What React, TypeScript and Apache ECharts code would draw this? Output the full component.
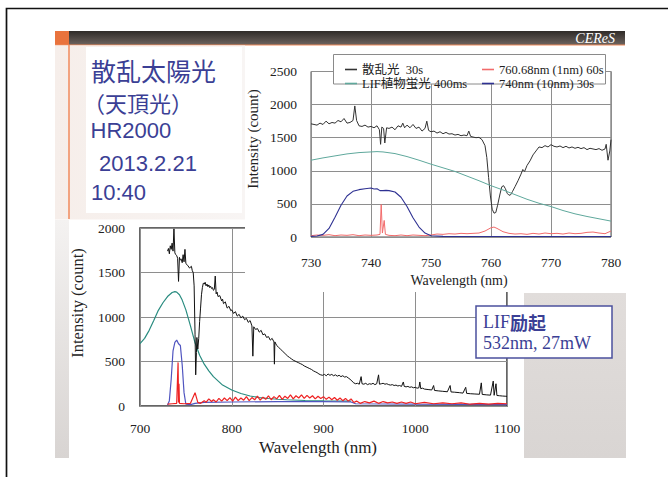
import React, { useEffect, useRef } from "react";
import * as echarts from "echarts";

// ---------- data ----------
const NAME_BLACK = "散乱光  30s";
const NAME_TEAL = "LIF植物蛍光 400ms";
const NAME_RED = "760.68nm (1nm) 60s";
const NAME_BLUE = "740nm (10nm) 30s";

const TOP_X_TICKS = [730, 780, 10];
const TOP_Y_TICKS = [0, 2500, 500];
const BOT_X_TICKS = [700, 1100, 100];
const BOT_Y_TICKS = [0, 2000, 500];

const topBlack: [number, number][] = [
  [730, 1710], [730.5, 1700], [731, 1690], [731.5, 1720], [732, 1700], [732.5, 1750], [733, 1710],
  [733.5, 1730], [734, 1720], [734.5, 1760], [735, 1740], [735.5, 1790], [736, 1720], [736.5, 1730],
  [737, 1760], [737.3, 1980], [737.6, 1760], [738, 1680], [738.5, 1670], [739, 1690], [739.5, 1660],
  [740, 1670], [740.5, 1650], [741, 1680], [741.4, 1620], [741.6, 1400], [741.8, 1660], [742.1, 1640],
  [742.3, 1420], [742.6, 1650], [743, 1640], [743.5, 1660], [744, 1620], [744.5, 1680], [745, 1660],
  [745.3, 1720], [745.6, 1650], [746, 1690], [746.5, 1650], [747, 1700], [747.5, 1640], [748, 1660],
  [748.5, 1600], [749, 1640], [749.3, 1750], [749.6, 1610], [750, 1590], [750.5, 1600], [751, 1570],
  [751.5, 1590], [752, 1560], [752.5, 1580], [753, 1555], [753.5, 1560], [754, 1540], [754.5, 1550],
  [755, 1530], [755.5, 1540], [756, 1530], [756.3, 1600], [756.6, 1520], [757, 1510], [757.5, 1500],
  [758, 1505], [758.5, 1470], [759, 1380], [759.3, 1200], [759.6, 900], [759.9, 620], [760.2, 420],
  [760.5, 360], [760.8, 370], [761.1, 480], [761.5, 650], [761.8, 760], [762.1, 775], [762.4, 730],
  [762.7, 660], [763, 630], [763.3, 640], [763.6, 690], [764, 760], [764.5, 850], [765, 950],
  [765.3, 1020], [765.6, 990], [766, 1080], [766.5, 1150], [767, 1240], [767.5, 1300], [768, 1360],
  [768.5, 1350], [769, 1380], [769.5, 1360], [770, 1395], [770.5, 1370], [771, 1360], [771.5, 1375],
  [772, 1350], [772.5, 1370], [773, 1345], [773.5, 1360], [774, 1340], [774.5, 1355], [775, 1335],
  [775.5, 1350], [776, 1320], [776.5, 1340], [777, 1330], [777.5, 1320], [778, 1335], [778.5, 1310],
  [779, 1330], [779.2, 1400], [779.5, 1160], [779.8, 1300], [780, 1470],
];

const topTeal: [number, number][] = [
  [730, 1160], [732, 1195], [734, 1225], [736, 1255], [738, 1275], [740, 1285], [741, 1290],
  [742, 1285], [744, 1260], [746, 1215], [748, 1160], [750, 1100], [752, 1045], [754, 990],
  [756, 920], [758, 850], [760, 775], [762, 710], [764, 640], [766, 570], [768, 510], [770, 460],
  [772, 400], [774, 350], [776, 310], [778, 275], [780, 240],
];

const topBlue: [number, number][] = [
  [730, 10], [731, 15], [732, 40], [733, 130], [734, 300], [735, 480], [736, 620], [737, 690],
  [738, 715], [739, 730], [740, 740], [740.5, 725], [741, 730], [741.5, 700], [742, 700],
  [742.5, 705], [743, 700], [744, 680], [745, 600], [746, 460], [747, 290], [748, 150], [749, 60],
  [750, 20], [752, 10], [755, 8], [760, 8], [765, 8], [770, 8], [775, 8], [780, 8],
];

const topRed: [number, number][] = [
  [730, 20], [731, 30], [732, 25], [733, 35], [734, 20], [735, 30], [736, 25], [737, 35], [738, 20],
  [739, 30], [740, 25], [741, 30], [741.5, 40], [741.7, 490], [741.9, 60], [742.2, 250], [742.4, 40],
  [743, 25], [744, 20], [745, 30], [746, 20], [747, 30], [748, 25], [749, 20], [750, 30], [751, 45],
  [752, 40], [753, 50], [754, 45], [755, 55], [756, 50], [757, 55], [758, 60], [759, 90], [760, 140],
  [760.5, 150], [761, 130], [762, 80], [763, 55], [764, 45], [765, 50], [766, 40], [767, 55],
  [768, 45], [769, 60], [770, 50], [771, 55], [772, 45], [773, 60], [774, 50], [775, 55], [776, 70],
  [777, 75], [778, 60], [779, 50], [779.5, 70], [780, 90],
];

const botBlack: [number, number][] = [
  [730, 1740], [731, 1770], [732, 1710], [733, 1800], [734, 1760], [735, 1830], [736, 1740],
  [737, 1990], [738, 1720], [739, 1700], [740, 1690], [741, 1660], [742, 1400], [743, 1670],
  [744, 1640], [745, 1650], [746, 1610], [747, 1700], [748, 1620], [749, 1760], [750, 1600],
  [752, 1580], [754, 1550], [756, 1570], [757, 1520], [758, 1500], [759, 1350], [760, 800],
  [760.7, 350], [761.5, 600], [762, 770], [763, 640], [764, 760], [765, 950], [766, 1100],
  [767, 1250], [768, 1330], [769, 1380], [770, 1370], [771, 1390], [772, 1350], [773, 1370],
  [774, 1340], [775, 1360], [776, 1330], [777, 1345], [778, 1320], [779, 1330], [780, 1300],
  [781, 1310], [782, 1460], [783, 1260], [784, 1280], [785, 1230], [787, 1240], [789, 1180],
  [790, 1200], [791, 1150], [793, 1170], [795, 1100], [797, 1120], [799, 1070], [800, 1080],
  [802, 1040], [804, 1060], [806, 1010], [808, 1030], [810, 990], [812, 1010], [814, 970],
  [816, 985], [818, 940], [820, 960], [822, 900], [823, 560], [824, 890], [826, 860], [828, 870],
  [830, 830], [832, 850], [834, 800], [836, 810], [838, 770], [840, 780], [842, 740], [844, 760],
  [846, 720], [846.5, 470], [847, 720], [849, 680], [851, 660], [853, 640], [855, 620], [857, 600],
  [859, 580], [861, 560], [863, 545], [865, 530], [867, 515], [869, 505], [871, 495], [873, 485],
  [875, 475], [877, 465], [879, 450], [881, 440], [883, 430], [885, 420], [887, 410], [889, 395],
  [891, 385], [893, 375], [895, 360], [897, 350], [899, 345], [901, 355], [903, 340], [905, 360],
  [907, 345], [909, 355], [911, 340], [913, 350], [915, 335], [917, 345], [919, 330], [921, 340],
  [923, 325], [925, 330], [927, 315], [929, 300], [931, 280], [933, 260], [935, 250], [937, 255],
  [939, 245], [941, 330], [942, 250], [944, 245], [946, 255], [948, 240], [950, 250], [952, 245],
  [954, 255], [956, 240], [958, 250], [960, 350], [961, 245], [963, 250], [965, 255], [967, 245],
  [969, 250], [971, 240], [973, 235], [975, 240], [977, 230], [979, 235], [981, 225], [983, 230],
  [985, 220], [987, 270], [988, 220], [990, 215], [992, 220], [994, 210], [996, 215], [998, 205],
  [1000, 210], [1002, 200], [1004, 205], [1005, 270], [1006, 195], [1008, 200], [1010, 190],
  [1014, 185], [1018, 180], [1020, 230], [1021, 175], [1025, 170], [1030, 165], [1035, 160],
  [1038, 230], [1039, 158], [1043, 155], [1048, 150], [1052, 145], [1055, 210], [1056, 142],
  [1060, 138], [1065, 135], [1070, 132], [1072, 260], [1073, 130], [1078, 125], [1082, 122],
  [1085, 280], [1086, 120], [1088, 250], [1089, 118], [1092, 115], [1095, 112], [1098, 110],
  [1100, 108],
];

const botTeal: [number, number][] = [
  [700, 700], [705, 760], [710, 850], [715, 960], [720, 1075], [725, 1160], [730, 1230],
  [735, 1275], [738, 1285], [740, 1280], [743, 1250], [746, 1190], [750, 1080], [755, 900],
  [760, 710], [765, 570], [770, 470], [775, 395], [780, 330], [790, 235], [800, 180], [810, 140],
  [820, 112], [830, 95], [840, 84], [850, 76], [860, 70], [880, 62], [900, 58], [930, 55],
];

const botBlue: [number, number][] = [
  [730, 10], [732, 60], [734, 300], [736, 620], [738, 715], [740, 740], [742, 700], [744, 680],
  [746, 460], [748, 150], [750, 20], [755, 15], [760, 30], [770, 40], [800, 45], [850, 50],
  [900, 50], [930, 45], [935, 25], [1000, 20], [1100, 15],
];

const botRed: [number, number][] = [
  [730, 20], [735, 25], [740, 30], [741.5, 490], [742, 40], [742.5, 250], [743, 30], [748, 25],
  [755, 30], [760, 150], [763, 40], [766, 30], [770, 60], [772, 40], [775, 80], [778, 50],
  [780, 70], [783, 45], [786, 85], [789, 55], [792, 90], [795, 60], [798, 95], [801, 55],
  [804, 100], [807, 60], [810, 90], [813, 65], [816, 105], [819, 60], [822, 95], [825, 70],
  [828, 110], [831, 65], [834, 100], [837, 75], [840, 115], [843, 70], [846, 105], [849, 80],
  [852, 120], [855, 75], [858, 110], [861, 85], [864, 125], [867, 80], [870, 115], [873, 90],
  [876, 125], [879, 85], [882, 120], [885, 90], [888, 115], [891, 80], [894, 110], [897, 85],
  [900, 105], [903, 75], [906, 100], [909, 70], [912, 95], [915, 65], [918, 90], [921, 60],
  [924, 85], [927, 55], [930, 80], [933, 40], [936, 55], [940, 30], [945, 50], [950, 35],
  [955, 55], [960, 30], [965, 50], [970, 35], [975, 45], [980, 30], [985, 45], [990, 30],
  [995, 45], [1000, 25], [1010, 40], [1020, 25], [1030, 35], [1040, 25], [1050, 35], [1060, 20],
  [1070, 30], [1080, 20], [1090, 30], [1100, 25],
];

const TITLE_LINES = ["散乱太陽光", "（天頂光）", "HR2000", "2013.2.21", "10:40"];
const NOTE_LINES = ["LIF", "励起", "532nm, 27mW"];

// ---------- styles ----------
const SERIF = "'Liberation Serif', 'Times New Roman', serif";
const SANS = "'Liberation Sans', Arial, sans-serif";
const CJK = "'Noto Sans CJK JP', sans-serif";
const NAVY = "#3b3f95";

export default function App() {
  const ref = useRef<HTMLDivElement>(null);

  useEffect(() => {
    if (!ref.current) return;
    const chart = echarts.init(ref.current, undefined, { renderer: "svg" });

    const label = (margin: number) => ({
      margin,
      fontFamily: SERIF,
      fontSize: 13.5,
      color: "#222",
      formatter: (v: number) => String(v),
    });
    const split = { show: true, lineStyle: { color: "#8e8e8e", width: 1 } };

    const mkAxis = (grid: number, t: number[], margin: number, z: number) => ({
      type: "value",
      gridIndex: grid,
      min: t[0],
      max: t[1],
      interval: t[2],
      z,
      axisLine: { show: false },
      axisTick: { show: false },
      splitLine: split,
      axisLabel: label(margin),
    });

    const line = (
      name: string,
      data: [number, number][],
      color: string,
      width: number,
      idx: number,
      z: number
    ) => ({
      type: "line",
      name,
      data,
      xAxisIndex: idx,
      yAxisIndex: idx,
      showSymbol: false,
      symbol: "none",
      z,
      lineStyle: { color, width },
      itemStyle: { color },
      emphasis: { disabled: true },
    });

    const lg = (left: number, names: string[]) => ({
      left,
      top: 58,
      orient: "vertical",
      itemGap: 1,
      itemWidth: 12,
      itemHeight: 1.6,
      icon: "rect",
      z: 7,
      data: names,
      selectedMode: false,
      textStyle: { fontFamily: SERIF + ", " + CJK, fontSize: 12.5, color: "#222", lineHeight: 13 },
    });

    const txt = (
      text: string,
      x: number,
      y: number,
      font: string,
      fill: string,
      align: string,
      z: number,
      rotation = 0
    ) => ({
      type: "text",
      x,
      y,
      z,
      rotation,
      style: { text, font, fill, align, verticalAlign: "middle" },
    });

    chart.setOption({
      animation: false,
      backgroundColor: "#ffffff",
      grid: [
        {
          left: 140,
          top: 228,
          width: 367,
          height: 178,
          show: true,
          borderColor: "#333",
          borderWidth: 1.5,
          backgroundColor: "transparent",
          z: 0,
        },
        {
          left: 311,
          top: 71.5,
          width: 300,
          height: 165.5,
          show: true,
          borderColor: "#555",
          borderWidth: 1,
          backgroundColor: "transparent",
          z: 4,
        },
      ],
      xAxis: [mkAxis(0, BOT_X_TICKS, 15, 0), mkAxis(1, TOP_X_TICKS, 18, 4)],
      yAxis: [mkAxis(0, BOT_Y_TICKS, 15, 0), mkAxis(1, TOP_Y_TICKS, 14, 4)],
      legend: [lg(340, [NAME_BLACK, NAME_TEAL]), lg(477, [NAME_RED, NAME_BLUE])],
      series: [
        line(NAME_BLACK, topBlack, "#333333", 1, 1, 5),
        line(NAME_TEAL, topTeal, "#5fa89c", 1, 1, 5),
        line(NAME_RED, topRed, "#f26b6b", 1, 1, 5),
        line(NAME_BLUE, topBlue, "#2e3192", 1.1, 1, 5),
        line(NAME_TEAL, botTeal, "#2a8c80", 1.2, 0, 2),
        line(NAME_BLUE, botBlue, "#5055c0", 1.2, 0, 2),
        line(NAME_RED, botRed, "#ee2222", 1.2, 0, 2),
        line(NAME_BLACK, botBlack, "#111111", 1, 0, 2),
      ],
      graphic: {
        elements: [
          // slide frame
          {
            type: "polyline",
            z: 10,
            shape: { points: [[6.5, 480], [6.5, 8.5], [670, 8.5]] },
            style: { stroke: "#111", lineWidth: 1.7, fill: null },
          },
          // header
          { type: "rect", z: 1, shape: { x: 55, y: 31, width: 14, height: 14 }, style: { fill: "#e9733d" } },
          {
            type: "rect",
            z: 1,
            shape: { x: 69, y: 31, width: 556, height: 14 },
            style: {
              fill: new echarts.graphic.LinearGradient(0, 0, 0, 1, [
                { offset: 0, color: "#2f2b28" },
                { offset: 1, color: "#6e645f" },
              ]),
            },
          },
          {
            type: "line",
            z: 1,
            shape: { x1: 55, y1: 45, x2: 625, y2: 45 },
            style: { stroke: "#ee8a5a", lineWidth: 1.2 },
          },
          txt("CEReS", 615, 38.5, "italic 14px " + SERIF, "#ffffff", "right", 2),
          // upper-left area
          {
            type: "rect",
            z: 1,
            shape: { x: 55, y: 45.6, width: 190, height: 174 },
            style: {
              fill: new echarts.graphic.LinearGradient(0, 0, 1, 0, [
                { offset: 0, color: "#f6eeea" },
                { offset: 1, color: "#f8f5f4" },
              ]),
            },
          },
          { type: "rect", z: 1, shape: { x: 86, y: 47, width: 156, height: 166 }, style: { fill: "#ffffff" } },
          {
            type: "line",
            z: 1,
            shape: { x1: 69, y1: 45, x2: 69, y2: 219 },
            style: { stroke: "#f08a5d", lineWidth: 1.5 },
          },
          // left strip lower
          {
            type: "rect",
            z: 1,
            shape: { x: 55, y: 220, width: 14, height: 238 },
            style: {
              fill: new echarts.graphic.LinearGradient(0, 0, 0, 1, [
                { offset: 0, color: "#f4f2f1" },
                { offset: 1, color: "#d8d4d2" },
              ]),
            },
          },
          // title text lines
          txt(TITLE_LINES[0], 91, 70, "25px " + CJK, NAVY, "left", 2),
          txt(TITLE_LINES[1], 83, 102, "22px " + CJK, NAVY, "left", 2),
          txt(TITLE_LINES[2], 90.5, 130.5, "22px " + SANS, NAVY, "left", 2),
          txt(TITLE_LINES[3], 99, 163, "22px " + SANS, NAVY, "left", 2),
          txt(TITLE_LINES[4], 91, 192, "22px " + SANS, NAVY, "left", 2),
          // white overlay that hides the lower chart under the inset
          { type: "rect", z: 3, shape: { x: 245, y: 46.5, width: 380, height: 245.5 }, style: { fill: "#ffffff" } },
          // inset legend box
          {
            type: "rect",
            z: 6,
            shape: { x: 333.5, y: 54.5, width: 272, height: 29.5 },
            style: { fill: "#ffffff", stroke: "#8a8a8a", lineWidth: 1 },
          },
          // axis titles
          txt("Intensity (count)", 253, 139, "15px " + SERIF, "#222", "center", 6, Math.PI / 2),
          txt("Wavelength (nm)", 459, 280, "14px " + SERIF, "#222", "center", 6),
          txt("Intensity (count)", 77, 303, "16.5px " + SERIF, "#222", "center", 2, Math.PI / 2),
          txt("Wavelength (nm)", 318, 447, "17px " + SERIF, "#222", "center", 2),
          // bottom-right grey panel
          {
            type: "rect",
            z: 1,
            shape: { x: 524, y: 293, width: 102, height: 165 },
            style: {
              fill: new echarts.graphic.LinearGradient(0, 0, 0, 1, [
                { offset: 0, color: "#e1dddb" },
                { offset: 1, color: "#d9d5d3" },
              ]),
            },
          },
          // LIF note
          {
            type: "rect",
            z: 8,
            shape: { x: 476, y: 306, width: 136, height: 52 },
            style: { fill: "#ffffff", stroke: "#4b509d", lineWidth: 1.5 },
          },
          txt(NOTE_LINES[0], 483, 322, "18px " + SERIF, NAVY, "left", 9),
          txt(NOTE_LINES[1], 510, 322, "bold 18px " + CJK, NAVY, "left", 9),
          txt(NOTE_LINES[2], 483, 343, "18px " + SERIF, NAVY, "left", 9),
        ],
      },
    });

    return () => chart.dispose();
  }, []);

  return (
    <div
      ref={ref}
      style={{ position: "absolute", left: 0, top: 0, width: 668, height: 477 }}
    />
  );
}
